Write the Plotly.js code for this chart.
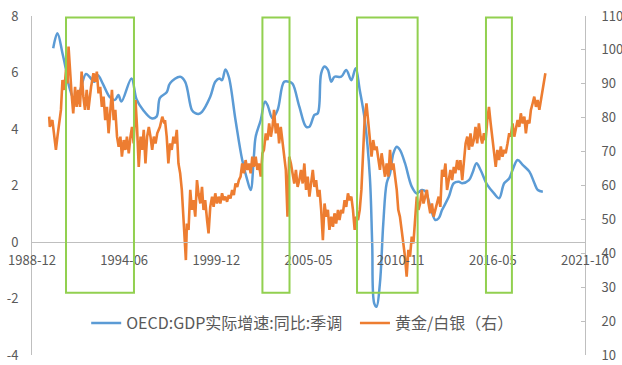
<!DOCTYPE html>
<html><head><meta charset="utf-8">
<script src="https://cdn.plot.ly/plotly-3.0.1.min.js"></script>
<style>html,body{margin:0;padding:0;background:#fff}#chart{width:622px;height:365px}</style>
</head><body><div id="chart"></div>
<script>
// GDP real growth, YoY, seasonally adjusted (left axis) — decimal years
const gdpYears = [1990.23,1990.48,1990.78,1990.99,1991.18,1991.48,1991.78,1992.18,1992.38,1992.68,
  1992.88,1993.18,1993.58,1993.90,1994.10,1994.28,1994.88,1995.18,1995.57,1996.07,
  1996.37,1996.57,1996.97,1997.17,1997.77,1998.07,1998.47,1998.67,1998.86,1999.07,
  1999.56,1999.86,2000.10,2000.26,2000.46,2000.66,2001.06,2001.46,2001.76,2001.96,
  2002.15,2002.26,2002.56,2002.81,2002.96,2003.26,2003.56,2003.95,2004.25,2004.45,
  2004.85,2005.25,2005.45,2005.75,2005.95,2006.15,2006.35,2006.55,2006.75,2006.94,
  2007.34,2007.64,2007.94,2008.20,2008.44,2008.74,2009.04,2009.18,2009.30,2009.44,
  2009.64,2009.84,2010.04,2010.24,2010.44,2010.64,2010.83,2011.13,2011.53,2011.83,
  2012.13,2012.33,2012.63,2012.93,2013.13,2013.33,2013.73,2014.03,2014.33,2014.53,
  2014.93,2015.13,2015.38,2015.62,2016.02,2016.42,2016.72,2017.02,2017.32,2017.52,
  2017.82,2018.12,2018.52,2018.82,2019.02,2019.32];
const gdpGrowth = [6.86,7.39,6.68,6.1,5.5,5.05,5.3,5.95,5.85,5.67,
  5.9,5.6,5.14,5.03,5.2,4.97,5.79,5.05,4.67,4.38,
  4.44,5.1,5.3,5.62,5.85,5.67,4.67,4.56,4.53,4.61,
  5.14,5.67,5.79,5.73,6.11,5.85,4.32,2.9,2.19,1.84,
  3.02,3.73,4.32,4.97,4.85,4.38,4.67,5.67,5.67,5.6,
  4.79,4.08,4.08,4.5,4.56,5.97,6.21,6.09,5.67,5.85,
  5.85,6.09,5.73,6.15,5.38,4.32,2.31,-0.05,-2.17,-2.29,
  -1.46,0.66,2.08,2.43,3.14,3.37,3.26,2.79,1.96,1.72,
  1.84,1.8,1.25,0.78,0.84,1.13,1.6,2.08,2.13,2.08,
  2.19,2.43,2.79,2.55,2.02,1.72,1.55,2.08,2.25,2.55,
  2.9,2.73,2.49,2.08,1.84,1.78];

// Gold / silver ratio (right axis) — decimal years
const goldYears = [
  1989.99,1990.03,1990.18,1990.29,1990.39,1990.48,1990.63,1990.69,1990.78,1990.89,
  1990.99,1991.08,1991.14,1991.23,1991.32,1991.42,1991.53,1991.62,1991.72,1991.82,
  1991.92,1992.02,1992.12,1992.22,1992.32,1992.48,1992.62,1992.72,1992.82,1992.92,
  1993.02,1993.12,1993.22,1993.32,1993.42,1993.52,1993.62,1993.72,1993.82,1993.92,
  1994.02,1994.12,1994.22,1994.31,1994.42,1994.52,1994.61,1994.72,1994.82,1994.91,
  1995.01,1995.12,1995.21,1995.31,1995.42,1995.51,1995.61,1995.71,1995.81,1995.91,
  1996.01,1996.11,1996.21,1996.31,1996.41,1996.57,1996.71,1996.83,
  1996.87,1996.97,1997.07,1997.17,1997.27,1997.37,1997.47,1997.57,1997.67,1997.77,
  1997.87,1997.97,1998.03,1998.11,1998.17,1998.27,1998.37,1998.47,1998.56,1998.67,
  1998.77,1998.86,1998.97,1999.07,1999.16,1999.26,1999.37,1999.46,1999.56,1999.67,
  1999.76,1999.86,1999.96,2000.06,2000.16,2000.26,2000.36,2000.46,2000.56,2000.66,
  2000.76,2000.86,2000.96,2001.06,2001.16,2001.26,2001.36,2001.46,2001.56,2001.66,
  2001.76,2001.86,2001.96,2002.06,2002.15,2002.26,2002.36,2002.45,2002.56,2002.66,
  2002.75,2002.86,2002.96,2003.06,2003.16,2003.26,2003.35,2003.46,2003.56,2003.65,
  2003.75,2003.85,2003.95,2004.05,2004.15,2004.25,2004.35,2004.45,2004.55,2004.65,
  2004.75,2004.85,
  2004.95,2005.05,2005.15,2005.25,2005.35,2005.45,2005.55,2005.65,2005.75,2005.85,
  2005.95,2006.05,2006.15,2006.25,2006.35,2006.45,2006.55,2006.64,2006.75,2006.85,
  2006.94,2007.04,2007.15,2007.24,2007.34,2007.44,2007.54,2007.64,2007.74,2007.84,
  2007.94,2008.04,2008.14,2008.24,2008.34,2008.44,2008.54,2008.64,2008.74,2008.84,
  2008.94,2009.04,2009.14,2009.24,2009.34,2009.44,2009.54,2009.64,2009.74,2009.84,
  2009.94,2010.04,2010.14,2010.24,2010.34,2010.44,2010.53,2010.64,2010.73,2010.83,
  2010.93,2011.03,2011.13,2011.23,2011.33,2011.43,2011.53,2011.63,2011.73,2011.83,
  2011.93,2012.03,2012.13,2012.23,2012.33,2012.43,2012.53,2012.63,2012.73,2012.83,
  2012.93,2013.03,2013.13,2013.23,
  2013.33,2013.43,2013.53,2013.63,2013.73,2013.83,2013.93,2014.03,2014.12,2014.23,
  2014.33,2014.42,2014.53,2014.63,2014.73,2014.83,2014.93,2015.02,2015.12,2015.22,
  2015.32,2015.42,2015.52,2015.62,2015.72,2015.82,2015.92,2016.02,2016.12,2016.22,
  2016.32,2016.42,2016.52,2016.62,2016.72,2016.82,2016.92,2017.02,2017.11,2017.22,
  2017.32,2017.41,2017.52,2017.62,2017.71,2017.82,2017.92,2018.01,2018.12,2018.22,
  2018.31,2018.41,2018.52,2018.61,2018.71,2018.81,2018.91,2019.01,2019.11,2019.21,
  2019.31,2019.41,2019.47];
const goldSilverRatio = [
  80.3,77.3,79.3,75.4,70.5,74.4,79.3,82.3,91.1,88.2,
  94.1,90.1,101,92.1,87.2,81.3,89.1,83.2,88.2,83.2,
  93.6,86.2,82.3,88.2,82.3,89.1,93.1,90.6,93.6,87.2,
  89.1,83.2,86.2,79.3,83.2,75.4,83.2,88.2,79.3,82.3,
  74.4,71.4,74.4,68.5,73.4,70.5,74.4,69.5,74.4,77.3,
  72.4,85.2,77.3,65.5,74.4,70.5,76.4,66.5,74.4,77.3,
  74.4,70.5,74.4,72.4,75.4,77.3,80.3,78.3,
  79.3,74.4,66.5,72.4,70.5,74.4,72.4,76.4,66.5,63.6,
  58.7,50.8,46.9,38.0,48.8,46.9,58.7,52.8,55.7,50.8,
  61.6,57.7,54.7,59.6,52.8,55.7,49.8,45.9,53.7,56.7,
  53.7,57.7,54.7,56.7,54.7,57.7,55.7,56.7,55.2,57.2,
  56.2,58.7,57.2,60.6,59.6,61.6,62.6,66.5,63.6,67.5,
  64.6,66.5,63.6,68.5,65.5,68.5,64.6,66.5,62.6,69.5,
  70.5,75.4,73.4,78.3,74.4,77.3,82.3,75.4,78.3,72.4,
  77.3,73.4,68.5,64.6,50.8,68.5,66.5,63.6,60.6,64.6,
  59.6,61.6,
  64.6,60.6,66.5,58.7,62.6,56.7,61.6,64.6,59.6,61.6,
  56.7,58.7,52.8,43.9,54.7,50.8,52.8,46.9,50.8,47.8,
  51.8,48.8,52.8,49.8,52.8,51.8,55.7,53.7,57.7,55.7,
  56.7,52.8,46.9,50.8,49.8,52.8,58.7,72.4,80.3,84.2,
  79.3,74.4,68.5,73.4,70.5,71.5,68.5,64.6,69.5,65.5,
  62.6,66.5,62.6,70.5,64.6,66.5,63.6,58.7,52.8,50.8,
  46.9,42.9,39.0,33.1,41.0,39.0,44.9,42.9,50.8,56.7,
  52.8,54.7,58.7,54.7,56.7,58.7,54.7,51.8,54.7,50.8,
  52.8,54.7,56.7,53.7,
  64.6,62.6,66.5,58.7,61.6,64.6,61.6,65.5,63.6,67.5,
  64.6,67.5,61.6,67.5,72.4,74.4,70.5,75.4,71.5,73.4,
  77.3,72.4,78.3,74.4,72.4,75.4,73.4,79.3,83.2,78.3,
  73.4,68.5,65.5,70.5,67.5,71.5,68.5,70.5,69.5,72.4,
  75.4,74.4,78.3,74.4,76.4,79.3,77.3,81.3,78.3,80.3,
  75.4,79.3,78.3,82.3,84.2,86.2,83.2,85.2,82.3,85.2,
  88.2,91.1,93.1];

// highlighted periods (decimal years)
const periodStart = [1990.99, 2002.66, 2008.28, 2015.94];
const periodEnd   = [1995.03, 2004.27, 2011.88, 2017.48];

const seriesNames = ['OECD:GDP实际增速:同比:季调', '黄金/白银（右）'];
const leftTickVals = [-4, -2, 0, 2, 4, 6, 8];
const leftTickText = ['-4', '-2', '0', '2', '4', '6', '8'];
const rightTickVals = [10, 20, 30, 40, 50, 60, 70, 80, 90, 100, 110];

function yearToDate(y) {
  const yr = Math.floor(y);
  const s = Date.UTC(yr, 0, 1), e = Date.UTC(yr + 1, 0, 1);
  return new Date(s + (y - yr) * (e - s)).toISOString().slice(0, 10);
}

const fam = '"Noto Sans CJK SC","Noto Sans",sans-serif';
const font = {family: fam, size: 13, color: '#595959'};
const legFont = {family: fam, size: 16, color: '#595959'};

const traces = [
  {x: gdpYears.map(yearToDate), y: gdpGrowth, name: seriesNames[0], type: 'scatter', mode: 'lines',
   yaxis: 'y', legend: 'legend', line: {color: '#5B9BD5', width: 2.5, shape: 'spline', smoothing: 1}},
  {x: goldYears.map(yearToDate), y: goldSilverRatio, name: seriesNames[1], type: 'scatter', mode: 'lines',
   yaxis: 'y2', legend: 'legend2', line: {color: '#ED7D31', width: 2.6}}
];

const shapes = periodStart.map((s, i) => ({
  type: 'rect', xref: 'x', yref: 'y', x0: yearToDate(s), x1: yearToDate(periodEnd[i]),
  y0: -1.8, y1: 7.95, line: {color: '#92D050', width: 2}, fillcolor: 'rgba(0,0,0,0)', layer: 'above'
}));

const layout = {
  width: 622, height: 365,
  margin: {l: 32, r: 37, t: 16, b: 10},
  paper_bgcolor: '#ffffff', plot_bgcolor: 'rgba(0,0,0,0)',
  font: font,
  showlegend: true,
  legend: {orientation: 'h', x: 0.098, y: 0.094, xanchor: 'left', yanchor: 'middle',
    bgcolor: 'rgba(0,0,0,0)', font: legFont},
  legend2: {orientation: 'h', x: 0.584, y: 0.094, xanchor: 'left', yanchor: 'middle',
    bgcolor: 'rgba(0,0,0,0)', font: legFont},
  xaxis: {type: 'date', range: ['1988-12-20', '2021-10-28'], anchor: 'free', position: 1/3,
    showline: true, linecolor: '#BFBFBF', linewidth: 1, showgrid: false, zeroline: false, ticks: '',
    tick0: '1988-12-20', dtick: 172800000000, tickformat: '%Y-%m', ticklabelstandoff: 6,
    tickfont: font},
  yaxis: {range: [-4, 8], tickvals: leftTickVals, ticktext: leftTickText, showgrid: false, zeroline: false,
    showline: true, linecolor: '#BFBFBF', linewidth: 1, ticks: '', ticklabelstandoff: 10, tickfont: font},
  yaxis2: {overlaying: 'y', side: 'right', range: [10, 110], tickvals: rightTickVals, showgrid: false,
    zeroline: false, showline: true, linecolor: '#BFBFBF', linewidth: 1, ticks: 'inside', ticklen: 4,
    tickcolor: '#BFBFBF', ticklabelstandoff: 13, tickfont: font},
  shapes: shapes
};

Plotly.newPlot('chart', traces, layout, {displayModeBar: false, staticPlot: true});
</script>
</body></html>
